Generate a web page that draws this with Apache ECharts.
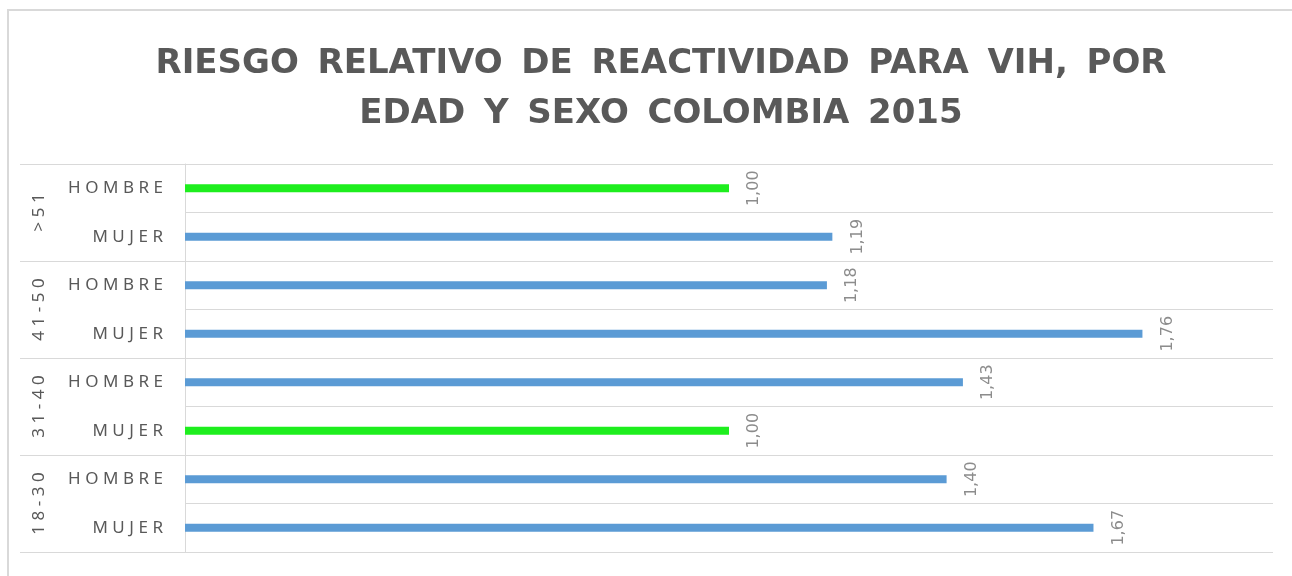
<!DOCTYPE html>
<html><head><meta charset="utf-8">
<script src="https://cdn.jsdelivr.net/npm/echarts@6/dist/echarts.min.js"></script>
<style>html,body{margin:0;padding:0;background:#fff}#c{width:1292px;height:576px}</style>
</head><body><div id="c"></div>
<script>
// bottom-to-top order (ECharts category axis starts at bottom)
const sexCategories = ['MUJER','HOMBRE','MUJER','HOMBRE','MUJER','HOMBRE','MUJER','HOMBRE'];
const ageGroups = ['18-30','31-40','41-50','>51'];
const riskValues = [1.67, 1.40, 1.00, 1.43, 1.76, 1.18, 1.19, 1.00];
const titleLines = ['RIESGO RELATIVO DE REACTIVIDAD PARA VIH, POR', 'EDAD Y SEXO COLOMBIA 2015'];

const spaced = s => s.split('').join('\u2009\u200A');
const wide = s => s.split(' ').join(' \u2009');
const chart = echarts.init(document.getElementById('c'));
chart.setOption({
  animation: false,
  backgroundColor: '#fff',
  graphic: [{
    type: 'rect', silent: true,
    shape: {x: 8, y: 10, width: 1300, height: 600},
    style: {fill: 'none', stroke: '#d9d9d9', lineWidth: 2}
  }],
  title: {
    text: titleLines.map(wide).join('\n'),
    left: 656, top: 34, textAlign: 'center',
    textStyle: {fontFamily: 'DejaVu Sans', fontWeight: 'bold', fontSize: 34, lineHeight: 50, color: '#595959'}
  },
  grid: {left: 185, right: 19, top: 164, bottom: 24, containLabel: false},
  xAxis: {type: 'value', min: 0, max: 2, show: false},
  yAxis: [{
    type: 'category', data: sexCategories, position: 'left',
    axisLine: {show: true, lineStyle: {color: '#d9d9d9', width: 1}},
    axisTick: {show: false},
    splitLine: {show: true, lineStyle: {color: '#d9d9d9', width: 1}},
    axisLabel: {margin: 22, color: '#595959', fontFamily: 'Noto Sans', fontSize: 17, formatter: v => spaced(v)}
  }, {
    type: 'category', data: ageGroups, position: 'left',
    axisLine: {show: false},
    axisTick: {show: true, length: 165, lineStyle: {color: '#d9d9d9', width: 1}},
    splitLine: {show: false},
    axisLabel: {margin: 137, rotate: 90, color: '#595959', fontFamily: 'Noto Sans', fontSize: 17, formatter: v => spaced(v)}
  }],
  series: [{
    type: 'bar', yAxisIndex: 0, data: riskValues, barWidth: 8,
    itemStyle: {color: p => p.value === 1 ? '#1eee1e' : '#5b9bd5'},
    label: {
      show: true, position: 'right', distance: 25, rotate: 90,
      align: 'center', verticalAlign: 'middle',
      color: '#8c8c8c', fontFamily: 'DejaVu Sans', fontSize: 16,
      formatter: p => p.value.toFixed(2).replace('.', ',')
    }
  }]
});
</script></body></html>
